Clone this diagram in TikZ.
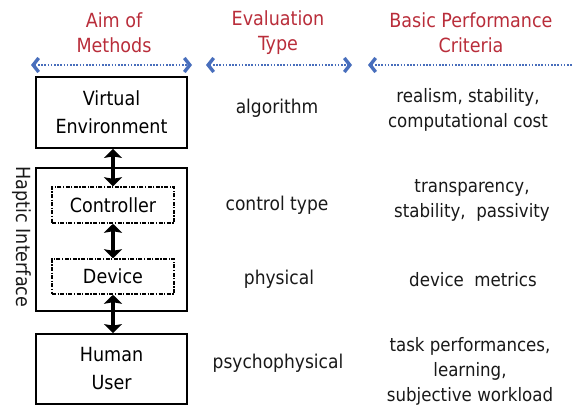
\documentclass[tikz,border=0pt]{standalone}
\usepackage{fontspec}
\setmainfont{DejaVu Sans Condensed}
\usepackage{tikz}
\usetikzlibrary{positioning,calc,arrows.meta}
\definecolor{hdrred}{RGB}{185,45,58}
\definecolor{arrblue}{RGB}{72,110,188}
\tikzset{
	box/.style={draw=black,line width=1.8pt,minimum width=151pt,align=center,font=\fontsize{19.5}{28}\selectfont},
	dbox/.style={draw=black,line width=1.5pt,dash pattern=on 4pt off 1.5pt on 1.2pt off 1.5pt,minimum width=122pt,font=\fontsize{19.5}{25}\selectfont},
	hdr/.style={text=hdrred,align=center,font=\fontsize{19.5}{25}\selectfont},
	lbl/.style={text=black!90,align=center,font=\fontsize{19}{25}\selectfont},
	crit/.style={lbl,font=\fontsize{18.5}{25}\selectfont},
	hline/.style={arrblue,line width=2.3pt,dash pattern=on 1.6pt off 1.6pt,{Straight Barb[length=5.5pt,width=14pt,line width=3.4pt]}-{Straight Barb[length=5.5pt,width=14pt,line width=3.4pt]}},
	vlink/.style={line width=3.4pt,{Stealth[length=9pt,width=18pt,inset=1.5pt]}-{Stealth[length=9pt,width=18pt,inset=1.5pt]}}
}
\begin{document}
\begin{tikzpicture}[x=1pt,y=-1pt]
	\useasboundingbox (0,0) rectangle (573,410);
	% headings
	\node[hdr] (h1) at (114,33) {Aim of\\Methods};
	\node[hdr] (h2) at (278,33) {Evaluation\\Type};
	\node[hdr] (h3) at (471,33) {Basic Performance\\Criteria};
	\coordinate (a1l) at (31,65);
	\coordinate (a1r) at (192,65);
	\coordinate (a2l) at (206,65);
	\coordinate (a2r) at (352,65);
	\coordinate (a3l) at (368,65);
	\coordinate (a3r) at (590,65);
	\draw[hline] (a1l)--(a1r);
	\draw[hline] (a2l)--(a2r);
	\draw[hline] (a3l)--(a3r);
	
	% left column
	\node[box,minimum height=71pt] (ve) at (111.5,112.5) {Virtual\\Environment};
	\node[box,minimum height=143pt] (hi) at (111.5,239.5) {};
	\node[dbox,minimum height=36pt] (ctrl) at (113,205) {Controller};
	\node[dbox,minimum height=35pt] (dev) at (113,276.5) {Device};
	\node[box,minimum height=70pt] (hu) at (111.5,369) {Human\\User};
	\node[lbl,font=\fontsize{19.5}{25}\selectfont,rotate=-90] (hitxt) at (22,237) {Haptic Interface};
	\draw[vlink] (ctrl.north |- ve.south)--(ctrl.north);
	\draw[vlink] (ctrl.south)--(dev.north);
	\draw[vlink] (dev.south)--(dev.south |- hu.north);
	
	% evaluation type
	\node[lbl] (e1) at (277,108) {algorithm};
	\node[lbl] (e2) at (277,205) {control type};
	\node[lbl] (e3) at (279,279) {physical};
	\node[lbl] (e4) at (278,363) {psychophysical};
	
	% criteria
	\node[crit] (c1) at (468,110) {realism, stability,\\computational cost};
	\node[crit] (c2) at (472,200) {transparency,\\stability,\ \ passivity};
	\node[crit] (c3) at (473,280) {device\ \ metrics};
	\node[crit] (c4) at (470,371) {task performances,\\learning,\\subjective workload};
\end{tikzpicture}
\end{document}
